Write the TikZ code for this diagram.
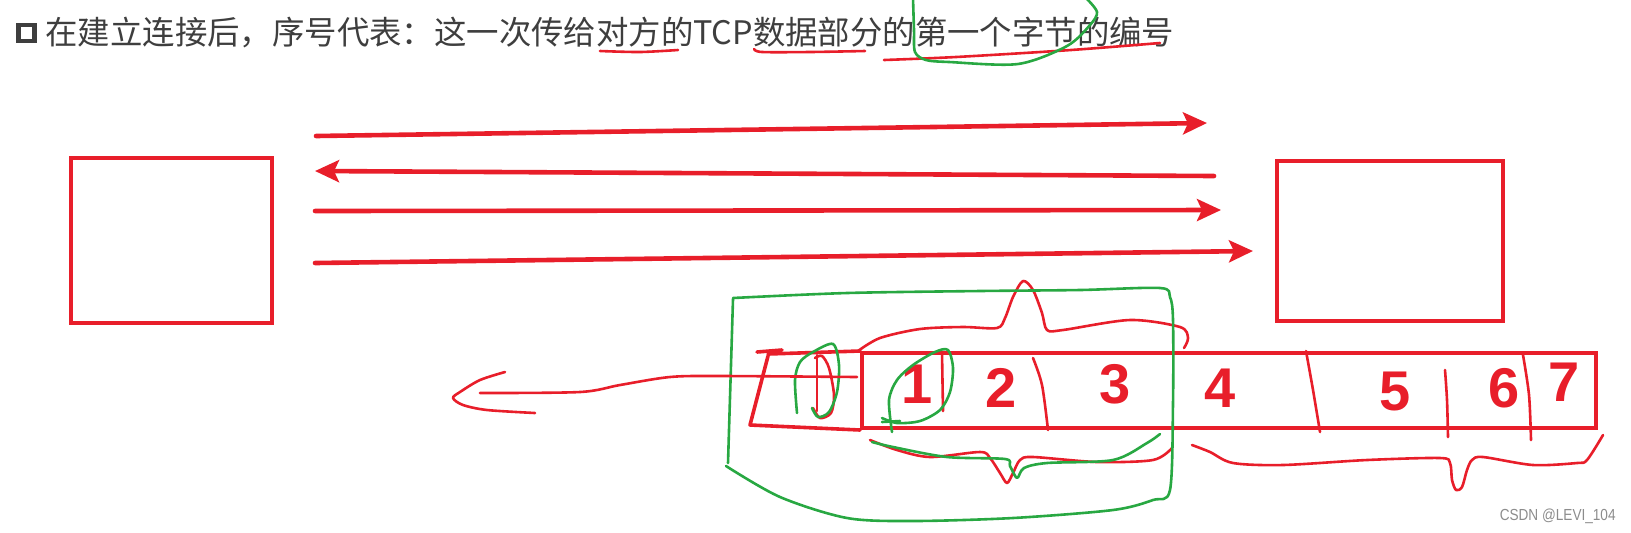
\documentclass[tikz,border=0pt]{standalone}
\usepackage{fontspec}
\setmainfont{Liberation Sans}
\newfontfamily\cjkfont{Noto Sans CJK SC}
\newfontfamily\markfont[FakeStretch=0.85]{Liberation Sans}
\usetikzlibrary{arrows.meta,positioning}
\definecolor{penred}{RGB}{232,30,42}
\definecolor{pengreen}{RGB}{40,168,66}
\definecolor{titlegray}{RGB}{62,62,62}
\tikzset{
  hostbox/.style={draw=penred, line width=1.7pt, inner sep=0pt},
  msgarrow/.style={penred, line width=2.3pt, line cap=round, -{Stealth[length=12pt,width=11pt,inset=2.5pt]}},
  redpen/.style={penred, line width=1.3pt, line cap=round, line join=round},
  greenpen/.style={pengreen, line width=1.3pt, line cap=round, line join=round},
  bytenum/.style={text=penred, inner sep=0pt, font=\fontsize{28}{28}\selectfont\bfseries},
}

\begin{document}
\begin{tikzpicture}[x=0.5pt, y=-0.5pt]
        \useasboundingbox (0,0) rectangle (1631,532);

        \node[draw=titlegray, line width=2.3pt, minimum size=8pt, inner sep=0pt] (bullet) at (26.5,33) {};
        \node[anchor=west, inner sep=0pt, text=titlegray, font=\cjkfont\fontsize{16.2}{16.2}\selectfont] (title) at (45,33)
            {在建立连接后，序号代表：这一次传给对方的TCP数据部分的第一个字节的编号};

        \draw[redpen] plot[smooth] coordinates {(600,51) (640,52) (678,50)};
        \draw[redpen] plot[smooth] coordinates {(754,49) (762,52) (810,52) (865,51)};
        \draw[redpen] plot[smooth] coordinates {(884,60) (956,57) (1071,50) (1160,43)};
        \draw[greenpen] plot[smooth] coordinates {(913,-2) (914,30) (915,52) (926,60) (949,62) (1018,64) (1067,46) (1090,25) (1097,12) (1086,-2)};

        \node[hostbox, minimum width=100.5pt, minimum height=82.5pt] (client) at (171.5,240.5) {};
        \node[hostbox, minimum width=113pt, minimum height=80pt] (server) at (1390,241) {};

        \coordinate (m1s) at (316,136);  \coordinate (m1e) at (1207,123);
        \coordinate (m2s) at (1214,176); \coordinate (m2e) at (315,171);
        \coordinate (m3s) at (315,211);  \coordinate (m3e) at (1221,210);
        \coordinate (m4s) at (315,263);  \coordinate (m4e) at (1253,251);
        \draw[msgarrow] (m1s) -- (m1e);
        \draw[msgarrow] (m2s) -- (m2e);
        \draw[msgarrow] (m3s) -- (m3e);
        \draw[msgarrow] (m4s) -- (m4e);

        \node[draw=penred, line width=2pt, minimum width=367pt, minimum height=37.5pt, inner sep=0pt] (strip) at (1229,390.5) {};
        \draw[redpen, line width=1.8pt] (757,352) -- (782,350);
        \draw[redpen, line width=1.8pt] (768,354) -- (strip.north west);
        \draw[redpen, line width=1.8pt] (768,356) -- (750,425) -- (strip.south west);

        \draw[redpen] (942,353) -- (943,411);
        \draw[redpen] plot[smooth] coordinates {(1033,358) (1042,385) (1048,430)};
        \draw[redpen] plot[smooth] coordinates {(1306,351) (1313,390) (1320,432)};
        \draw[redpen] plot[smooth] coordinates {(1445,370) (1447,400) (1448,437)};
        \draw[redpen] plot[smooth] coordinates {(1523,355) (1529,395) (1531,440)};

        \node[bytenum] (b1) at (917,384) {1};
        \node[bytenum] (b2) at (1001,388) {2};
        \node[bytenum] (b3) at (1115,384) {3};
        \node[bytenum] (b4) at (1220,388) {4};
        \node[bytenum] (b5) at (1395,391) {5};
        \node[bytenum] (b6) at (1504,388) {6};
        \node[bytenum] (b7) at (1564,382) {7};

        \draw[redpen] (817,355) -- (817,411);
        \draw[redpen] plot[smooth] coordinates {(813,408) (820,418) (831,413) (834,395) (829,368) (822,356) (815,358)};
        \draw[greenpen] plot[smooth] coordinates {(797,413) (795,380) (800,362) (813,352) (833,344) (839,365) (837,392) (829,412) (818,417) (812,408)};
        \draw[greenpen] plot[smooth] coordinates {(892,432) (889,400) (897,380) (913,365) (935,352) (948,350) (953,368) (950,392) (940,410) (920,421) (897,423) (882,418)};
        \draw[greenpen] (882,422) -- (900,421);

        \draw[redpen] plot[smooth] coordinates {(858,351) (880,338) (920,329) (963,327) (997,328) (1005,318) (1013,297) (1023,281) (1033,290) (1042,313) (1047,330) (1063,330) (1130,320) (1180,327) (1188,338) (1184,348)};
        \draw[redpen] plot[smooth] coordinates {(870,440) (897,450) (930,457) (980,452) (990,458) (1000,473) (1007,483) (1013,473) (1020,460) (1033,457) (1097,462) (1153,460) (1172,448)};
        \draw[greenpen] plot[smooth] coordinates {(872,442) (893,447) (947,457) (1005,459) (1010,466) (1017,478) (1024,468) (1047,463) (1113,460) (1147,443) (1160,434)};
        \draw[redpen] plot[smooth] coordinates {(1192,445) (1210,452) (1233,463) (1283,465) (1367,460) (1440,458) (1450,463) (1452,480) (1456,490) (1462,487) (1467,470) (1472,460) (1483,457) (1533,465) (1577,463) (1587,460) (1603,435)};

        \draw[greenpen] (733,299) -- (728,463);
        \draw[greenpen] plot[smooth, tension=0.5] coordinates {(726,466) (780,497) (847,518) (913,521) (1013,518) (1113,510) (1153,500) (1170,490) (1173,403) (1173,320) (1170,297) (1160,288) (1080,290) (980,291) (847,293) (733,298)};

        \coordinate (backs) at (857,377);
        \draw[redpen] plot[smooth] coordinates {(backs) (720,376) (670,377) (620,385) (580,392) (480,393)};
        \draw[redpen] plot[smooth] coordinates {(505,372) (480,380) (460,392) (453,398) (463,405) (487,410) (535,413)};

        \node[anchor=east, inner sep=0pt, text=black!45, font=\markfont\fontsize{8}{8}\selectfont] (mark) at (1616,516) {CSDN @LEVI\_104};
    \end{tikzpicture}
\end{document}
